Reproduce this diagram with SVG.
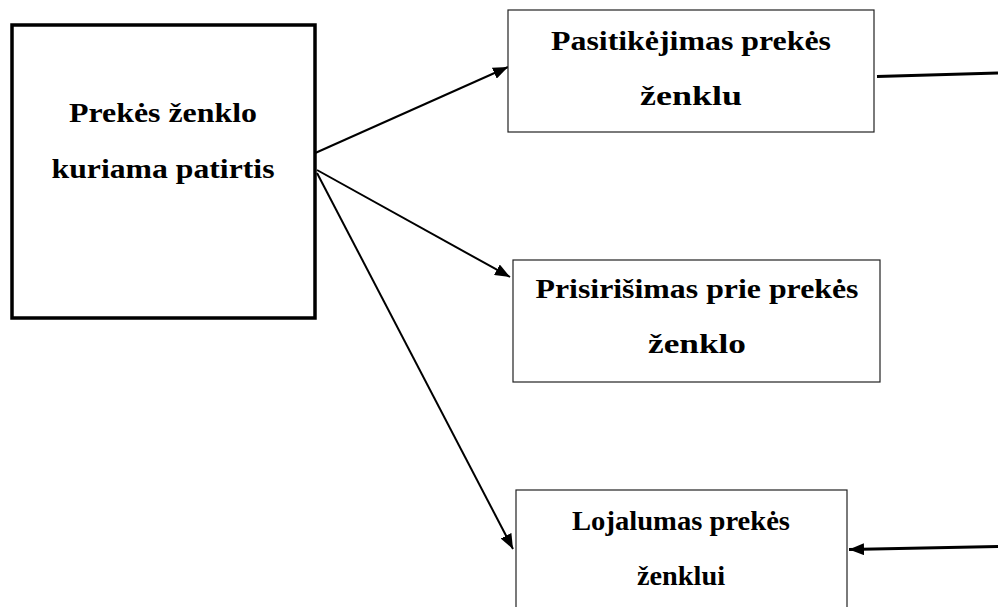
<svg xmlns="http://www.w3.org/2000/svg" width="998" height="607" viewBox="0 0 998 607">
<style>
.box{fill:#fff;stroke:#222;stroke-width:1.2}
.c{stroke:#000;stroke-width:2;fill:none}
.ct{stroke:#000;stroke-width:3;fill:none}
</style>
<defs>
<marker id="ah" viewBox="0 0 10 10" refX="10" refY="5" markerWidth="7.5" markerHeight="6" markerUnits="strokeWidth" orient="auto" preserveAspectRatio="none">
<path d="M0,0 L10,5 L0,10 z" fill="#000"/>
</marker>
<marker id="ah2" viewBox="0 0 10 10" refX="10" refY="5" markerWidth="5" markerHeight="4" markerUnits="strokeWidth" orient="auto" preserveAspectRatio="none">
<path d="M0,0 L10,5 L0,10 z" fill="#000"/>
</marker>
</defs>
<rect width="998" height="607" fill="#fff"/>
<g id="connectors">
<line class="c" x1="313" y1="154" x2="508" y2="67" marker-end="url(#ah)"/>
<line class="c" x1="317" y1="170" x2="510" y2="277" marker-end="url(#ah)"/>
<line class="c" x1="317" y1="173" x2="513" y2="549" marker-end="url(#ah)"/>
<line class="ct" x1="877" y1="76.5" x2="998" y2="73"/>
<line class="ct" x1="998" y1="546.5" x2="849" y2="549.5" marker-end="url(#ah2)"/>
</g>
<g font-family="Liberation Serif, Times New Roman, serif" font-weight="bold" font-size="28" fill="#000" text-anchor="middle">
<g id="n1">
<rect x="12" y="25" width="303" height="293" fill="#fff" stroke="#000" stroke-width="3.5"/>
<text x="163" y="122" textLength="188" lengthAdjust="spacingAndGlyphs">Prekės ženklo</text>
<text x="163" y="178" textLength="223" lengthAdjust="spacingAndGlyphs">kuriama patirtis</text>
</g>
<g id="n2">
<rect class="box" x="508" y="10" width="366" height="122"/>
<text x="691" y="50" textLength="280" lengthAdjust="spacingAndGlyphs">Pasitikėjimas prekės</text>
<text x="691" y="105" textLength="102" lengthAdjust="spacingAndGlyphs">ženklu</text>
</g>
<g id="n3">
<rect class="box" x="513" y="260" width="367" height="122"/>
<text x="697" y="298" textLength="323" lengthAdjust="spacingAndGlyphs">Prisirišimas prie prekės</text>
<text x="697" y="353" textLength="98" lengthAdjust="spacingAndGlyphs">ženklo</text>
</g>
<g id="n4">
<rect class="box" x="516" y="490" width="331" height="130"/>
<text x="681" y="530" textLength="218" lengthAdjust="spacingAndGlyphs">Lojalumas prekės</text>
<text x="681" y="585" textLength="88" lengthAdjust="spacingAndGlyphs">ženklui</text>
</g>
</g>
</svg>
